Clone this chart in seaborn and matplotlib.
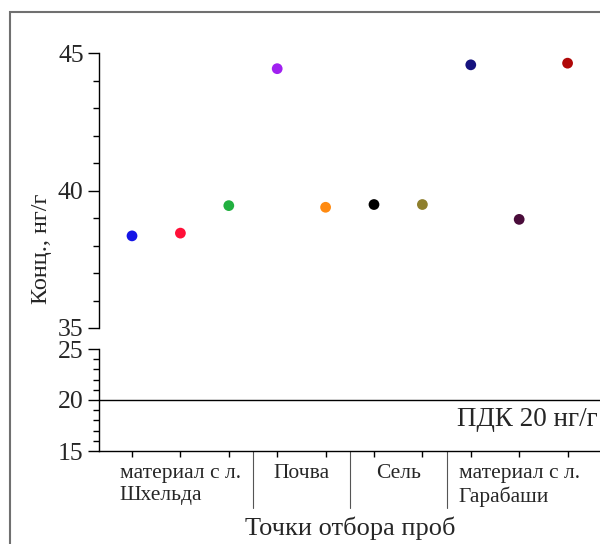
import matplotlib
matplotlib.use("Agg")
import matplotlib.pyplot as plt
from matplotlib.patches import Rectangle
import seaborn as sns
import pandas as pd

# ---- data ----
positions = [1, 2, 3, 4, 5, 6, 7, 8, 9, 10]
sample_ids = ["s1", "s2", "s3", "s4", "s5", "s6", "s7", "s8", "s9", "s10"]
values = [38.35, 38.45, 39.45, 44.43, 39.39, 39.49, 39.49, 44.57, 38.95, 44.63]
point_colors = ["#1515e6", "#ff1038", "#22b040", "#a020f0", "#ff8a10",
                "#000000", "#8e7f2c", "#15127e", "#4a0c3a", "#b00808"]
group_labels = ["материал с л.\nШхельда", "Почва", "Сель", "материал с л.\nГарабаши"]
group_centers = [2, 4.5, 6.5, 9]
group_separators = [3.5, 5.5, 7.5]
top_ticks = [35, 40, 45]
bottom_ticks = [15, 20, 25]
pdk_value = 20
pdk_label = "ПДК 20 нг/г"
y_label = "Конц., нг/г"
x_label = "Точки отбора проб"

df = pd.DataFrame({"pos": positions, "value": values, "sample": sample_ids})

sns.set_style("white")
plt.rcParams["font.family"] = ["Liberation Serif", "DejaVu Serif"]

W, H = 600, 544
fig = plt.figure(figsize=(W / 100, H / 100), dpi=100)

def fx(px):
    return px / W

def fy(py):
    return 1 - py / H

left = fx(99)
width = 1.0 - left
ax_top = fig.add_axes([left, fy(328), width, fy(53) - fy(328)])
ax_bot = fig.add_axes([left, fy(451), width, fy(349) - fy(451)])

xlim = (0.318, 10.67)
for ax in (ax_top, ax_bot):
    ax.set_xlim(*xlim)
    ax.set_facecolor("none")
    for s in ("top", "right"):
        ax.spines[s].set_visible(False)
    ax.spines["left"].set_color("black")
    ax.spines["left"].set_linewidth(1.0)
    ax.tick_params(axis="y", which="major", direction="out", length=8, width=1.0,
                   labelsize=18.5, pad=3, color="black", left=True)
    ax.tick_params(axis="y", which="minor", direction="out", length=4, width=1.0,
                   color="black", left=True)

sns.scatterplot(data=df, x="pos", y="value", hue="sample", palette=point_colors,
                s=60, edgecolor="none", legend=False, ax=ax_top)
ax_top.set_ylim(35, 45)
ax_top.set_yticks(top_ticks)
ax_top.set_yticks(range(35, 46), minor=True)
ax_top.spines["bottom"].set_visible(False)
ax_top.set_xticks([])
ax_top.set_xlabel("")
ax_top.set_ylabel("")

ax_bot.set_ylim(15, 25)
ax_bot.set_yticks(bottom_ticks)
ax_bot.set_yticks(range(15, 26), minor=True)
ax_bot.spines["bottom"].set_color("black")
ax_bot.spines["bottom"].set_linewidth(1.0)
ax_bot.set_xticks(positions)
ax_bot.set_xticklabels([])
ax_bot.tick_params(axis="x", which="major", direction="out", length=4, width=1.0,
                   color="black", bottom=True)
ax_bot.axhline(pdk_value, color="black", lw=1.0)
ax_bot.text(0.995, 0.245, pdk_label, transform=ax_bot.transAxes, ha="right",
            va="baseline", fontsize=19.5)

trans = ax_bot.get_xaxis_transform()
for xs in group_separators:
    ax_bot.plot([xs, xs], [0, -0.56], transform=trans, color="#555555", lw=0.8,
                clip_on=False)
for xc, lab in zip(group_centers, group_labels):
    ax_bot.text(xc, -0.13, lab, transform=trans, ha="center", va="top",
                multialignment="left", fontsize=15.5, linespacing=1.2)

fig.text(fx(350), fy(528), x_label, ha="center", va="center", fontsize=19)
fig.text(fx(41), fy(249), y_label, ha="center", va="center", rotation=90,
         fontsize=17.5)

# outer frame
fig.patches.append(Rectangle((fx(10), -0.1), 1.2, fy(12) + 0.1,
                             transform=fig.transFigure, fill=False,
                             edgecolor="#707070", lw=1.5))

fig.savefig("out.png", dpi=100)
